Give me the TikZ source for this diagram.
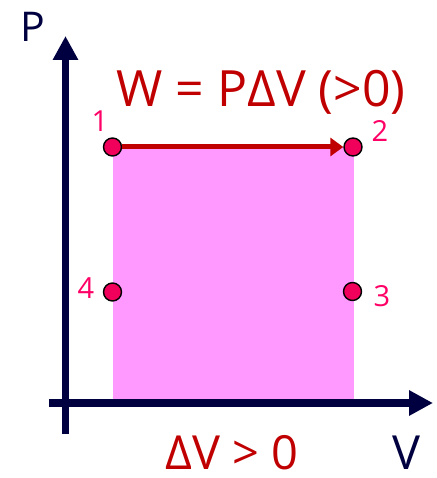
\documentclass[tikz,border=0pt]{standalone}
\usepackage{fontspec}
\setmainfont{Open Sans}
\usetikzlibrary{arrows.meta,positioning}
\definecolor{axisnavy}{RGB}{0,0,64}
\definecolor{areapink}{RGB}{255,153,255}
\definecolor{dotred}{RGB}{240,0,90}
\definecolor{numpink}{RGB}{255,0,102}
\definecolor{workred}{RGB}{192,0,0}
\tikzset{
  axis/.style={axisnavy,line width=7.5pt,-{Triangle[length=24pt,width=24pt]}},
  dot/.style={circle,draw=black,line width=1.4pt,fill=dotred,minimum size=18pt,inner sep=0pt},
  numlabel/.style={numpink,font=\fontsize{29}{29}\selectfont,inner sep=0pt},
  bigtext/.style={font=\fontsize{50}{50}\selectfont,inner sep=0pt,anchor=base,text depth=0pt},
  work/.style={workred,line width=5pt,-{Triangle[length=13pt,width=18pt]}}
}

\begin{document}
\begin{tikzpicture}[x=1pt,y=-1pt]
  \useasboundingbox (0,0) rectangle (436,478);
  \coordinate (vbot) at (65.5,434);
  \coordinate (vtop) at (65.5,36);
  \coordinate (hleft) at (49,403);
  \coordinate (hright) at (433,403);
  % shaded work area
  \fill[areapink] (112.5,147) rectangle (353.5,403);
  \draw[axis] (vbot) -- (vtop);
  \draw[axis] (hleft) -- (hright);
  \node[bigtext,axisnavy,font=\fontsize{41}{41}\selectfont] (plabel) at (33,42) {P};
  \node[bigtext,axisnavy,font=\fontsize{47}{47}\selectfont] (vlabel) at (406,469) {V};
  % states
  \node[dot] (p1) at (112.5,147) {};
  \node[dot] (p2) at (353,147) {};
  \node[dot] (p3) at (352.5,291.5) {};
  \node[dot] (p4) at (112.5,292) {};
  \draw[work] (p1) -- (p2);
  \node[numlabel] (n1) at (100,121) {1};
  \node[numlabel] (n2) at (380,131) {2};
  \node[numlabel] (n3) at (382,296) {3};
  \node[numlabel] (n4) at (86,288) {4};
  \node[bigtext,workred] (wtext) at (261,107) {W = PΔV (>0)};
  \node[bigtext,workred,font=\fontsize{47}{47}\selectfont] (dvtext) at (232,469) {ΔV > 0};
\end{tikzpicture}
\end{document}
